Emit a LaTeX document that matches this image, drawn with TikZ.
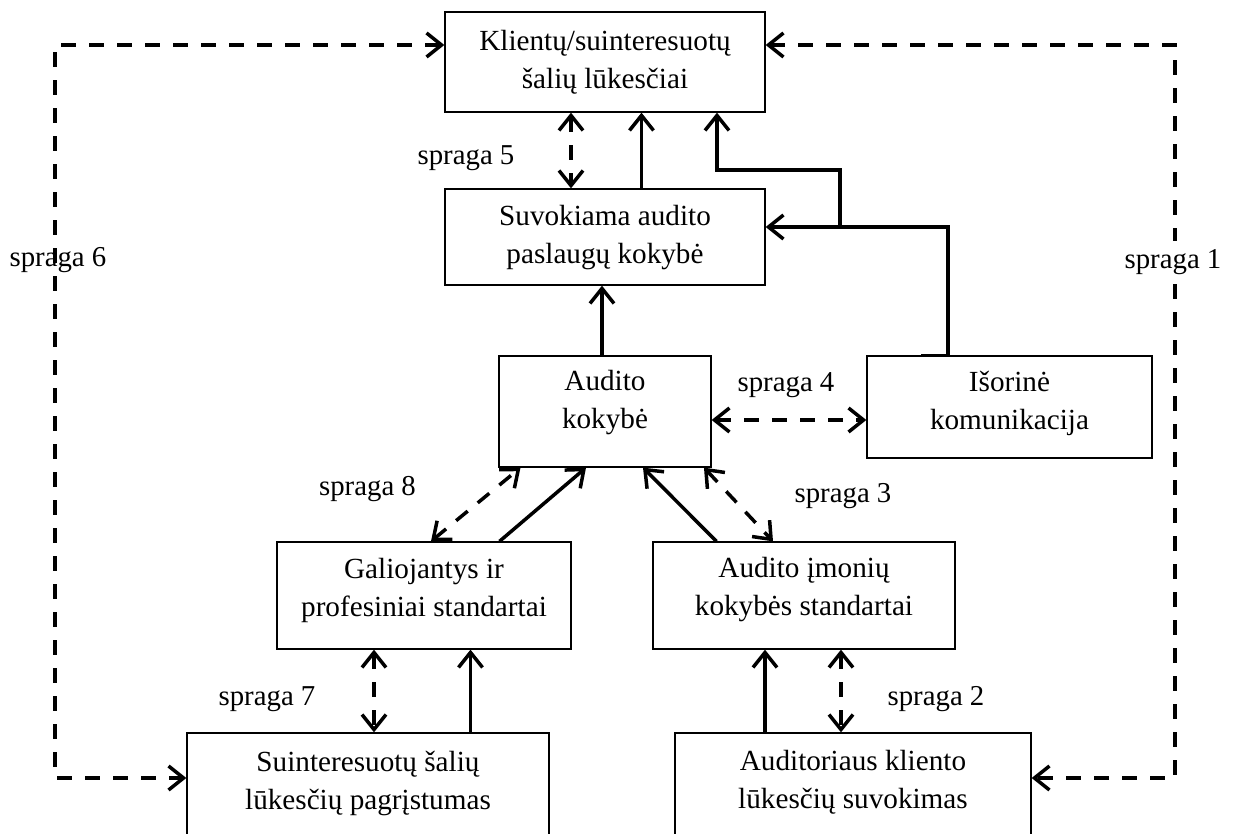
\documentclass[tikz,border=0pt]{standalone}
\usepackage{fontspec}
\setmainfont{Liberation Serif}
\usetikzlibrary{arrows.meta,calc}
\begin{document}
\begin{tikzpicture}[x=0.5pt,y=-0.5pt,
  box/.style={draw, line width=0.65pt, inner sep=0pt},
  boxtext/.style={align=center, inner sep=0pt,
    font=\fontsize{14.6}{19}\selectfont},
  lbl/.style={inner sep=0pt, font=\fontsize{14.4}{17}\selectfont},
  link/.style={line width=1.75pt,
    arrows={-Straight Barb[length=7.5pt,width=12pt]}},
  gap/.style={line width=1.75pt, dash pattern=on 7.5pt off 6.5pt,
    arrows={Straight Barb[length=7.5pt,width=12pt]-Straight Barb[length=7.5pt,width=12pt]}},
]
\useasboundingbox (0,0) rectangle (1233,834);
\clip (0,0) rectangle (1233,834);

% boxes
\node[box, minimum width=160pt, minimum height=50pt]   (K) at (605,62)     {};
\node[box, minimum width=160pt, minimum height=48pt]   (S) at (605,237)    {};
\node[box, minimum width=106pt, minimum height=55.5pt] (A) at (605,411.5)  {};
\node[box, minimum width=142.5pt, minimum height=51pt] (I) at (1009.5,407) {};
\node[box, minimum width=147pt, minimum height=53.5pt] (G) at (424,595.5)  {};
\node[box, minimum width=151pt, minimum height=53.5pt] (Q) at (804,595.5)  {};
\node[box, minimum width=181pt, minimum height=51pt]   (P) at (368,784)    {};
\node[box, minimum width=178pt, minimum height=51pt]   (R) at (853,784)    {};

% box texts
\node[boxtext] (Kt) at (605,62)    {Klientų/suinteresuotų\\šalių lūkesčiai};
\node[boxtext] (St) at (605,238)   {Suvokiama audito\\paslaugų kokybė};
\node[boxtext] (At) at (605,403)   {Audito\\kokybė};
\node[boxtext] (It) at (1009.5,403) {Išorinė\\komunikacija};
\node[boxtext] (Gt) at (424,590)   {Galiojantys ir\\profesiniai standartai};
\node[boxtext] (Qt) at (804,590)   {Audito įmonių\\kokybės standartai};
\node[boxtext] (Pt) at (368,783)   {Suinteresuotų šalių\\lūkesčių pagrįstumas};
\node[boxtext] (Rt) at (853,782)   {Auditoriaus kliento\\lūkesčių suvokimas};

% gap labels
\node[lbl] (g5) at (466,158) {spraga 5};
\node[lbl] (g6) at (58,260)  {spraga 6};
\node[lbl] (g4) at (786,385) {spraga 4};
\node[lbl] (g8) at (367.5,489) {spraga 8};
\node[lbl] (g3) at (843,496) {spraga 3};
\node[lbl] (g7) at (267,699) {spraga 7};
\node[lbl] (g2) at (936,699) {spraga 2};

% connector positions
\coordinate (x5d) at (571,0);
\coordinate (x5s) at (641.5,0);
\coordinate (xAS) at (602,0);
\coordinate (x7d) at (374,0);
\coordinate (x7s) at (470.5,0);
\coordinate (x2s) at (765,0);
\coordinate (x2d) at (841,0);
\coordinate (x8a) at (431,0);   \coordinate (x8b) at (520.5,0);
\coordinate (xGa) at (499.5,0); \coordinate (xGb) at (586,0);
\coordinate (xQa) at (716.5,0); \coordinate (xQb) at (643,0);
\coordinate (x3a) at (704,0);   \coordinate (x3b) at (773,0);
\coordinate (l1) at (55,45);    \coordinate (l2) at (55,778);
\coordinate (r1) at (1175,45);  \coordinate (r2) at (1175,778);
\coordinate (e1) at (948,227);  \coordinate (e2) at (840,227);
\coordinate (e3) at (840,170);  \coordinate (e4) at (717,170);
\coordinate (y4) at (0,420);

% outer loops
\draw[gap] (K.west |- l1) -- (l1) -- (l2) -- (P.west |- l2);
\draw[gap] (K.east |- r1) -- (r1) -- (r2) -- (R.east |- r2);

% upper links
\draw[gap]  (K.south -| x5d) -- (S.north -| x5d);
\draw[link] (S.north -| x5s) -- (K.south -| x5s);
\draw[link] ($(I.north -| e1)+(-27,0)$) -- (I.north -| e1) -- (e1) -- (S.east |- e1);
\draw[link] (e2) -- (e3) -- (e4) -- (K.south -| e4);
\draw[link] (A.north -| xAS) -- (S.south -| xAS);
\draw[gap]  (A.east |- y4) -- (I.west |- y4);

% middle links
\draw[gap]  (G.north -| x8a) -- (A.south -| x8b);
\draw[link] (G.north -| xGa) -- (A.south -| xGb);
\draw[link] (Q.north -| xQa) -- (A.south -| xQb);
\draw[gap]  (A.south -| x3a) -- (Q.north -| x3b);

% lower links
\draw[gap]  (G.south -| x7d) -- (P.north -| x7d);
\draw[link] (P.north -| x7s) -- (G.south -| x7s);
\draw[link] (R.north -| x2s) -- (Q.south -| x2s);
\draw[gap]  (Q.south -| x2d) -- (R.north -| x2d);

\node[lbl, fill=white, inner xsep=2pt, inner ysep=4pt] (g1) at (1173,262) {spraga 1};
\end{tikzpicture}
\end{document}
